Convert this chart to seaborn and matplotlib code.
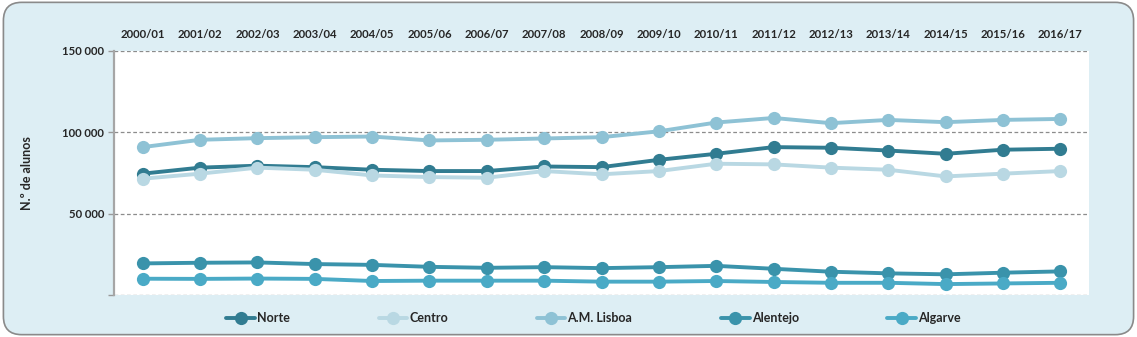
import matplotlib
matplotlib.use("Agg")
import matplotlib.pyplot as plt
from matplotlib.patches import FancyBboxPatch
import seaborn as sns
import pandas as pd

years = ["2000/01", "2001/02", "2002/03", "2003/04", "2004/05", "2005/06", "2006/07",
         "2007/08", "2008/09", "2009/10", "2010/11", "2011/12", "2012/13", "2013/14",
         "2014/15", "2015/16", "2016/17"]

norte = [74500, 78200, 79400, 78500, 76900, 76100, 76100, 78900, 78500, 83000,
         86700, 90800, 90400, 88700, 86700, 89200, 89800]
centro = [71400, 74500, 78200, 76900, 73400, 72400, 72000, 76100, 74100, 76100,
          80600, 80200, 78200, 76900, 72800, 74500, 76100]
lisboa = [90800, 95300, 96300, 96900, 97300, 94900, 95300, 96100, 96900, 100500,
          105900, 108700, 105500, 107500, 106100, 107500, 108100]
alentejo = [19400, 19800, 20000, 19000, 18500, 17300, 16700, 17100, 16500, 17100,
            17900, 16100, 14300, 13300, 12700, 13700, 14500]
algarve = [10000, 9900, 10100, 9900, 8600, 8800, 8800, 8800, 8200, 8200,
           8600, 8000, 7500, 7500, 6700, 7100, 7500]

regions = ["Norte", "Centro", "A.M. Lisboa", "Alentejo", "Algarve"]
colors = ["#317C91", "#B9D8E3", "#8EC2D5", "#3A93AB", "#4AAAC6"]
y_ticks = [0, 50000, 100000, 150000]
y_ticklabels = ["", "50 000", "100 000", "150 000"]

series = dict(zip(regions, [norte, centro, lisboa, alentejo, algarve]))
df = pd.DataFrame([
    {"pos": i, "ano": y, "regiao": r, "alunos": v}
    for r in regions for i, (y, v) in enumerate(zip(years, series[r]))
])

sns.set_theme(style="white")
plt.rcParams["font.family"] = ["Lato", "DejaVu Sans"]
plt.rcParams["font.weight"] = "bold"

fig = plt.figure(figsize=(11.37, 3.37), dpi=100)
fig.patch.set_facecolor("white")
frame = FancyBboxPatch((0.003, 0.007), 0.994, 0.986,
                       boxstyle="round,pad=0,rounding_size=0.016",
                       transform=fig.transFigure, facecolor="#DDEEF4",
                       edgecolor="#8A8A8A", linewidth=1.2, zorder=-5,
                       mutation_aspect=1137 / 337)
fig.patches.append(frame)

ax = fig.add_axes([0.1003, 0.1246, 0.8575, 0.7250])
ax.set_zorder(1)
ax.set_facecolor("white")

sns.lineplot(data=df, x="pos", y="alunos", hue="regiao", hue_order=regions,
             palette=colors, marker="o", markersize=9.5, markeredgewidth=0,
             linewidth=2.8, ax=ax, legend=True, zorder=3)

ax.set_xlim(-0.5, len(years) - 0.5)
ax.set_ylim(0, 150000)
ax.set_xticks(range(len(years)))
ax.set_xticklabels(years, fontsize=8.2, fontweight="bold")
ax.xaxis.tick_top()
ax.tick_params(axis="x", length=0, pad=8)
ax.set_xlabel("")

ax.set_yticks(y_ticks)
ax.set_yticklabels(y_ticklabels, fontsize=8.2, fontweight="bold")
ax.tick_params(axis="y", length=4, width=1, color="#999999", left=True, pad=3)
ax.set_ylabel("N.º de alunos", fontsize=9, fontweight="bold")
ax.yaxis.set_label_coords(-0.083, 0.5)

for y in y_ticks:
    ax.axhline(y, color="#8C8C8C", linestyle=(0, (3, 2)), linewidth=0.9, zorder=1)

for side in ["top", "right", "bottom"]:
    ax.spines[side].set_visible(False)
ax.spines["left"].set_color("#A6A6A6")
ax.spines["left"].set_linewidth(1.6)

handles, labels = ax.get_legend_handles_labels()
ax.get_legend().remove()
fig.legend(handles, labels, loc="center", bbox_to_anchor=(0.522, 0.056), ncol=5,
           frameon=False, handlelength=2.3, handletextpad=0.15, columnspacing=7.1,
           prop={"size": 9, "weight": "bold"})

fig.savefig("out.png", dpi=100, facecolor=fig.get_facecolor())
